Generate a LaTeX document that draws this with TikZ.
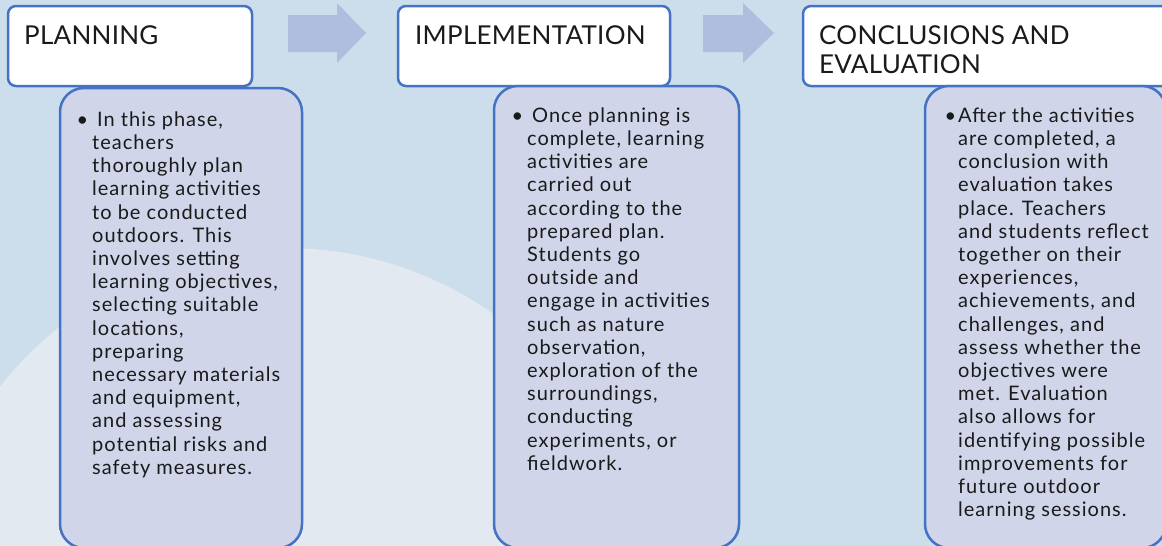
\documentclass[tikz,border=0pt]{standalone}
\usepackage{fontspec}
\setmainfont{Lato}
\definecolor{bgblue}{HTML}{CCDEEB}
\definecolor{bglight}{HTML}{E2E9F1}
\definecolor{boxline}{HTML}{4472C4}
\definecolor{bodyfill}{HTML}{D0D5EA}
\definecolor{arrowfill}{HTML}{AFBEDF}
\definecolor{txt}{HTML}{1A1A1A}
\tikzset{
  headbox/.style={draw=boxline, line width=2.5pt, fill=white, rounded corners=8pt},
  bodybox/.style={draw=boxline, line width=2.5pt, fill=bodyfill, rounded corners=24pt},
  blockarrow/.style={fill=arrowfill, draw=none},
  headtext/.style={anchor=north west, inner sep=0pt, align=left, text=txt, font=\fontsize{26}{29}\selectfont\addfontfeatures{LetterSpace=1}},
  bodytext/.style={anchor=north west, inner sep=0pt, align=left, text=txt, font=\fontsize{20}{23.2}\selectfont\addfontfeatures{LetterSpace=5}}
}
\newcommand{\hstrut}{\rule{0pt}{20pt}}
\newcommand{\bstrut}{\rule{0pt}{16pt}}
\begin{document}
\begin{tikzpicture}[x=1pt,y=-1pt]
\useasboundingbox (0,0) rectangle (1162,546);
\begin{scope}
\clip (0,0) rectangle (1162,546);
\fill[bgblue] (0,0) rectangle (1162,546);
\fill[bglight] (285,610) circle[radius=362];
% arrows
\fill[blockarrow] (288,15) -- (337,15) -- (337,3) -- (366,33) -- (337,63) -- (337,52) -- (288,52) -- cycle;
\fill[blockarrow] (703,15) -- (743,15) -- (743,3) -- (774,33) -- (743,63) -- (743,52) -- (703,52) -- cycle;
% headers and bodies
\draw[headbox] (8,6) rectangle (252,86);
\draw[bodybox] (60,88) rectangle (302,548);
\draw[headbox] (398,6) rectangle (670,86);
\draw[bodybox] (494,86) rectangle (739,548);
\draw[headbox] (803,6) rectangle (1190,86);
\draw[bodybox] (925,86) rectangle (1166,548);
\end{scope}
% header texts
\node[headtext] (h1) at (24,24) {\hstrut PLANNING};
\node[headtext] (h2) at (415,24) {\hstrut IMPLEMENTATION};
\node[headtext] (h3) at (819,24) {\hstrut CONCLUSIONS AND\\EVALUATION};
% body texts
\node[bodytext] (b1) at (92,110) {\bstrut\makebox[0pt][r]{\textbullet\hspace{4pt}}\hspace{5pt}In this phase,\\
teachers\\
thoroughly plan\\
learning activities\\
to be conducted\\
outdoors. This\\
involves setting\\
learning objectives,\\
selecting suitable\\
locations,\\
preparing\\
necessary materials\\
and equipment,\\
and assessing\\
potential risks and\\
safety measures.};
\node[bodytext] (b2) at (527,106) {\bstrut\makebox[0pt][r]{\textbullet\hspace{4pt}}\hspace{5pt}Once planning is\\
complete, learning\\
activities are\\
carried out\\
according to the\\
prepared plan.\\
Students go\\
outside and\\
engage in activities\\
such as nature\\
observation,\\
exploration of the\\
surroundings,\\
conducting\\
experiments, or\\
fieldwork.};
\node[bodytext] (b3) at (958,106) {\bstrut\makebox[0pt][r]{\textbullet\hspace{2pt}}After the activities\\
are completed, a\\
conclusion with\\
evaluation takes\\
place. Teachers\\
and students reflect\\
together on their\\
experiences,\\
achievements, and\\
challenges, and\\
assess whether the\\
objectives were\\
met. Evaluation\\
also allows for\\
identifying possible\\
improvements for\\
future outdoor\\
learning sessions.};
\end{tikzpicture}
\end{document}
